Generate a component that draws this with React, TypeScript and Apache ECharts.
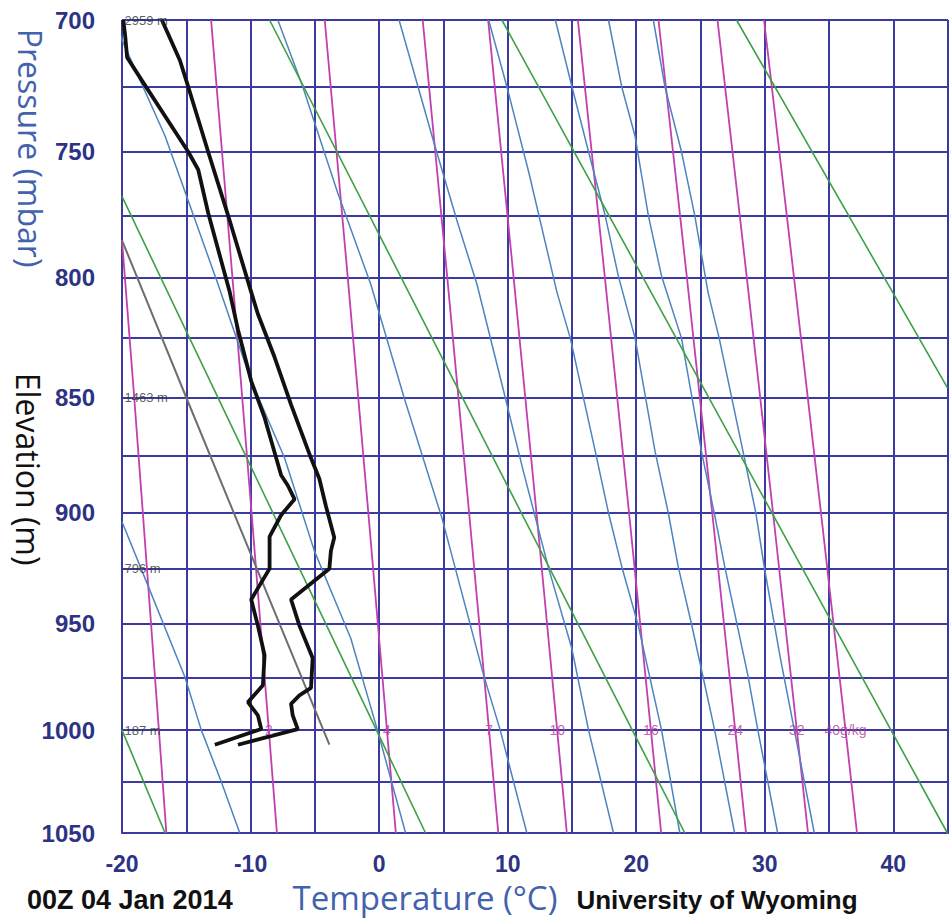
import { useEffect, useRef } from 'react';
import * as echarts from 'echarts';

// Stüve diagram: vertical coordinate is p^kappa
const KAPPA = 0.286;

// Axis ticks
const pressureGridLines = [700, 725, 750, 775, 800, 825, 850, 875, 900, 925, 950, 975, 1000, 1025, 1050];
const pressureLabels = [700, 750, 800, 850, 900, 950, 1000, 1050];
const tempMin = -20;
const tempMax = 44.25;
const tempStep = 5;

// Sounding: temperature
const tempP = [700, 715, 725, 750, 775, 806, 815, 833, 853, 876, 885, 897, 911, 917, 925, 939, 951, 966, 980, 983.5, 987.5, 993, 999.5, 1007];
const tempT = [-16.9, -15.5, -14.85, -13.3, -11.75, -9.95, -9.43, -8.13, -6.85, -5.3, -4.65, -4.14, -3.49, -3.75, -3.87, -6.85, -6.2, -5.17, -5.3, -6.2, -6.85, -6.72, -6.33, -10.98];

// Sounding: dew point
const dewP = [700, 706, 714, 722.5, 750, 757, 774, 806, 821.5, 843, 858.6, 883.5, 888, 894, 901, 910.6, 925, 939, 951, 964.7, 978.7, 986.7, 993, 999.5, 1007];
const dewT = [-19.9, -19.75, -19.6, -18.47, -14.85, -14.07, -13.3, -11.62, -10.98, -9.95, -8.91, -7.62, -7.1, -6.58, -7.62, -8.52, -8.52, -9.95, -9.43, -8.91, -9.04, -10.2, -9.43, -9.17, -12.78];

// Gray reference (parcel) line
const parcelP = [785, 852, 1007];
const parcelT = [-20.0, -14.85, -3.87];

// Dry adiabats (green)
const dryP = [[1000, 1050], [767.5, 1050], [700, 1050], [700, 1050], [700, 845.8]];
const dryT = [[-20, -16.65], [-20, 3.61], [-8.52, 23.78], [9.55, 44.2], [27.8, 44.2]];

// Moist adiabats (blue)
const moistP = [
  [904, 929.5, 975, 1000, 1025, 1050],
  [700, 708.5, 743.9, 767.3, 802.8, 843, 875.9, 917.1, 956.9, 1000, 1050],
  [700, 725, 766, 802.8, 850, 902.6, 974, 1000, 1050],
  [700, 746.4, 777.9, 802.8, 850, 882, 925, 961.6, 1000, 1050],
  [700, 725, 758, 806, 825, 873, 900, 924, 951, 1000, 1050],
  [700, 725, 750, 775, 799.5, 825, 873, 900, 924, 950, 1000, 1050],
  [700, 725, 744, 775, 799.5, 825, 873, 901, 924, 974, 1000, 1050],
  [700, 725, 750, 775, 806, 825, 873, 900, 924, 965.7, 1000, 1050],
];
const moistT = [
  [-20, -18.2, -15.1, -13.83, -12.27, -10.84],
  [-20.6, -19.9, -16.65, -14.98, -12.53, -9.95, -7.36, -5.03, -2.2, -0.13, 2.06],
  [-7.88, -5.94, -3.23, -0.65, 1.94, 4.9, 8.13, 9.42, 11.49],
  [1.55, 4.26, 6.1, 7.61, 9.81, 11.23, 13.19, 14.99, 16.29, 18.23],
  [8.52, 9.94, 11.64, 13.83, 14.87, 16.81, 17.84, 18.87, 20.16, 21.97, 23.39],
  [13.71, 15.0, 16.29, 17.58, 18.61, 19.91, 21.46, 22.49, 23.26, 24.29, 26.1, 27.65],
  [17.84, 18.87, 19.91, 20.94, 21.97, 23.52, 25.07, 26.1, 26.88, 28.68, 29.46, 31.0],
  [21.33, 22.23, 23.52, 24.55, 25.58, 26.45, 28.3, 29.3, 29.95, 31.2, 32.3, 33.85],
];

// Saturation mixing ratio lines (magenta)
const mixP = [
  [785, 850, 900, 1000, 1050],
  [700, 800, 900, 1000, 1050],
  [700, 800, 900, 1000, 1050],
  [700, 800, 900, 1000, 1050],
  [700, 800, 900, 1000, 1050],
  [700, 800, 900, 1000, 1050],
  [700, 800, 900, 1000, 1050],
  [700, 800, 900, 1000, 1050],
  [700, 800, 900, 1000, 1050],
];
const mixT = [
  [-20.0, -19.05, -18.38, -17.13, -16.55],
  [-13.07, -11.41, -9.92, -8.58, -7.95],
  [-4.23, -2.44, -0.84, 0.61, 1.3],
  [3.39, 5.3, 7.0, 8.55, 9.27],
  [8.48, 10.46, 12.24, 13.85, 14.6],
  [15.46, 17.56, 19.44, 21.14, 21.94],
  [21.73, 23.94, 25.91, 27.7, 28.54],
  [26.32, 28.6, 30.64, 32.49, 33.36],
  [29.94, 32.27, 34.37, 36.28, 37.17],
];
const mixLabelText = ['2', '4', '7', '10', '16', '24', '32', '40g/kg'];
const mixLabelT = [-8.58, 0.61, 8.55, 13.85, 21.14, 27.7, 32.49, 36.28];
const mixLabelP = 1000;

// Height labels
const heightText = ['2959 m', '1463 m', '796 m', '187 m'];
const heightP = [700, 850, 925, 1000];

const GRID = '#3b3b9f';
const NAVY = '#2d3384';
const TITLE_BLUE = '#4262ad';
const GREEN = '#3da043';
const BLUE = '#4d84bf';
const MAGENTA = '#c23fb1';

const yv = (p: number) => Math.pow(p, KAPPA);
const toData = (ps: number[], ts: number[]) => ps.map((p, i) => [ts[i], yv(p)]);

function lineSeries(name: string, ps: number[], ts: number[], color: string, width: number, z: number) {
  return {
    name,
    type: 'line',
    data: toData(ps, ts),
    showSymbol: false,
    symbol: 'none',
    silent: true,
    clip: true,
    z,
    lineStyle: { color, width },
  };
}

export default function App() {
  const ref = useRef<HTMLDivElement>(null);
  useEffect(() => {
    const chart = echarts.init(ref.current!, null, { renderer: 'svg' });
    const series: any[] = [];
    mixP.forEach((ps, i) => series.push(lineSeries('mix' + i, ps, mixT[i], MAGENTA, 1.8, 2)));
    moistP.forEach((ps, i) => series.push(lineSeries('moist' + i, ps, moistT[i], BLUE, 1.5, 3)));
    dryP.forEach((ps, i) => series.push(lineSeries('dry' + i, ps, dryT[i], GREEN, 1.6, 3)));
    series.push(lineSeries('parcel', parcelP, parcelT, '#6e6e6e', 2, 4));
    series.push(lineSeries('dewpoint', dewP, dewT, '#111111', 3.8, 5));
    series.push(lineSeries('temperature', tempP, tempT, '#111111', 3.8, 5));
    series.push({
      type: 'scatter',
      silent: true,
      symbolSize: 1,
      itemStyle: { color: 'transparent' },
      z: 6,
      data: heightP.map((p, i) => ({
        value: [tempMin, yv(p)],
        label: { formatter: heightText[i] },
      })),
      label: {
        show: true,
        position: 'right',
        distance: 2,
        color: '#333333',
        fontSize: 13,
        fontFamily: 'Liberation Sans, Arial, sans-serif',
      },
    });
    series.push({
      type: 'scatter',
      silent: true,
      symbolSize: 1,
      itemStyle: { color: 'transparent' },
      z: 6,
      data: mixLabelT.map((t, i) => ({
        value: [t, yv(mixLabelP)],
        label: { formatter: mixLabelText[i] },
      })),
      label: {
        show: true,
        position: 'inside',
        color: '#b43c9c',
        fontSize: 14,
        fontFamily: 'Liberation Sans, Arial, sans-serif',
      },
    });

    const option: any = {
      animation: false,
      backgroundColor: '#ffffff',
      grid: { left: 122, top: 20, right: 0, bottom: 85, containLabel: false },
      xAxis: {
        type: 'value',
        min: tempMin,
        max: tempMax,
        interval: tempStep,
        axisLine: { show: true, lineStyle: { color: GRID, width: 2 } },
        axisTick: { show: false },
        axisLabel: {
          formatter: (v: number) => (Math.abs(v % 10) < 1e-6 ? String(Math.round(v)) : ''),
          color: NAVY,
          fontSize: 23,
          fontWeight: 'bold',
          fontFamily: 'Liberation Sans, Arial, sans-serif',
          margin: 19,
        },
        splitLine: { show: true, lineStyle: { color: GRID, width: 2 } },
      },
      yAxis: {
        type: 'value',
        inverse: true,
        min: yv(700),
        max: yv(1050),
        axisLine: { show: true, lineStyle: { color: GRID, width: 2 } },
        axisTick: { show: false, customValues: pressureGridLines.map(yv) },
        axisLabel: {
          customValues: pressureLabels.map(yv),
          formatter: (v: number) => String(Math.round(Math.pow(v, 1 / KAPPA))),
          color: NAVY,
          fontSize: 24,
          fontWeight: 'bold',
          fontFamily: 'Liberation Sans, Arial, sans-serif',
          margin: 27,
        },
        splitLine: { show: true, lineStyle: { color: GRID, width: 2 } },
      },
      graphic: [
        {
          type: 'text',
          x: 30,
          y: 148,
          rotation: -Math.PI / 2,
          style: {
            text: 'Pressure (mbar)',
            fill: TITLE_BLUE,
            font: '32px "Open Sans", sans-serif',
            align: 'center',
            verticalAlign: 'middle',
          },
        },
        {
          type: 'text',
          x: 28,
          y: 469,
          rotation: -Math.PI / 2,
          style: {
            text: 'Elevation (m)',
            fill: '#111111',
            font: '32px "Open Sans", sans-serif',
            align: 'center',
            verticalAlign: 'middle',
          },
        },
        {
          type: 'text',
          x: 425,
          y: 897,
          style: {
            text: 'Temperature (°C)',
            fill: TITLE_BLUE,
            font: '33px "Open Sans", sans-serif',
            align: 'center',
            verticalAlign: 'middle',
          },
        },
        {
          type: 'text',
          x: 27,
          y: 900,
          style: {
            text: '00Z 04 Jan 2014',
            fill: '#111111',
            font: 'bold 27px "Liberation Sans", Arial, sans-serif',
            align: 'left',
            verticalAlign: 'middle',
          },
        },
        {
          type: 'text',
          x: 717,
          y: 900,
          style: {
            text: 'University of Wyoming',
            fill: '#111111',
            font: 'bold 26px "Liberation Sans", Arial, sans-serif',
            align: 'center',
            verticalAlign: 'middle',
          },
        },
      ],
      series,
    };
    chart.setOption(option);
    return () => chart.dispose();
  }, []);
  return (
    <div
      ref={ref}
      style={{ position: 'absolute', left: 0, top: 0, width: 951, height: 918, background: '#ffffff' }}
    />
  );
}
